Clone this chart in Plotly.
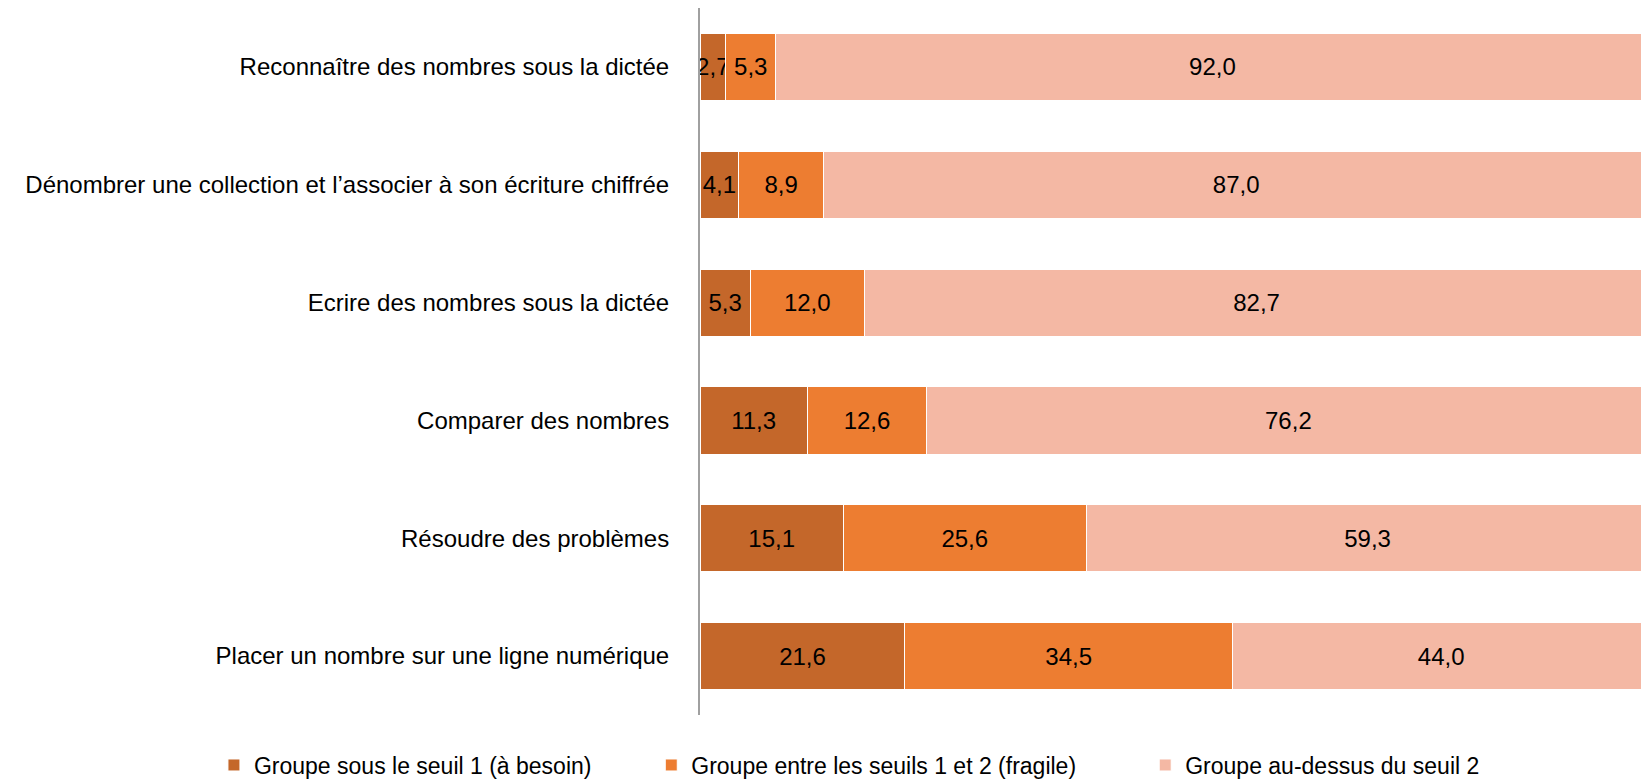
import plotly.graph_objects as go

categories = [
    "Reconnaître des nombres sous la dictée",
    "Dénombrer une collection et l’associer à son écriture chiffrée",
    "Ecrire des nombres sous la dictée",
    "Comparer des nombres",
    "Résoudre des problèmes",
    "Placer un nombre sur une ligne numérique",
]
series_names = [
    "Groupe sous le seuil 1 (à besoin)",
    "Groupe entre les seuils 1 et 2 (fragile)",
    "Groupe au-dessus du seuil 2",
]
sous_seuil1 = [2.7, 4.1, 5.3, 11.3, 15.1, 21.6]
entre_seuils = [5.3, 8.9, 12.0, 12.6, 25.6, 34.5]
au_dessus = [92.0, 87.0, 82.7, 76.2, 59.3, 44.0]

colors = ["#C4672A", "#ED7D31", "#F4B8A4"]
font_family = "Liberation Sans, Arial"
fsize = 24

# page body has an 8px margin, so the figure is shifted to line up with the window
W, H = 1641, 772

# one legend per series so each entry can sit where it does in the original
legend_ids = ["legend", "legend2", "legend3"]
legend_x = [0.1255, 0.392, 0.693]

fig = go.Figure()
for name, vals, col, lg in zip(series_names, [sous_seuil1, entre_seuils, au_dessus], colors, legend_ids):
    fig.add_trace(go.Bar(
        name=name, y=categories, x=vals, orientation="h",
        marker=dict(color=col, line=dict(color="white", width=1)),
        text=vals, texttemplate="%{x:.1f}", textposition="inside",
        insidetextanchor="middle", constraintext="none", textangle=0,
        textfont=dict(color="black", size=fsize, family=font_family),
        legend=lg, showlegend=True,
    ))

legends = {}
for lg, lx in zip(legend_ids, legend_x):
    legends[lg] = dict(orientation="h", xref="container", yref="container",
                       x=lx, xanchor="left", y=0.0194, yanchor="middle",
                       font=dict(size=23), itemwidth=30, bgcolor="rgba(0,0,0,0)")

fig.update_layout(
    barmode="stack",
    bargap=0.43,
    separators=", ",
    width=W, height=H,
    showlegend=True,
    margin=dict(l=692, r=0, t=0, b=65),
    plot_bgcolor="white", paper_bgcolor="white",
    font=dict(family=font_family, size=fsize, color="black"),
    xaxis=dict(visible=False, range=[0, 100]),
    yaxis=dict(autorange="reversed", showline=True, linecolor="#A0A0A0", linewidth=2,
               ticks="", ticklabelstandoff=24, showgrid=False, automargin=False),
    **legends,
)

fig.write_html("out.html")
